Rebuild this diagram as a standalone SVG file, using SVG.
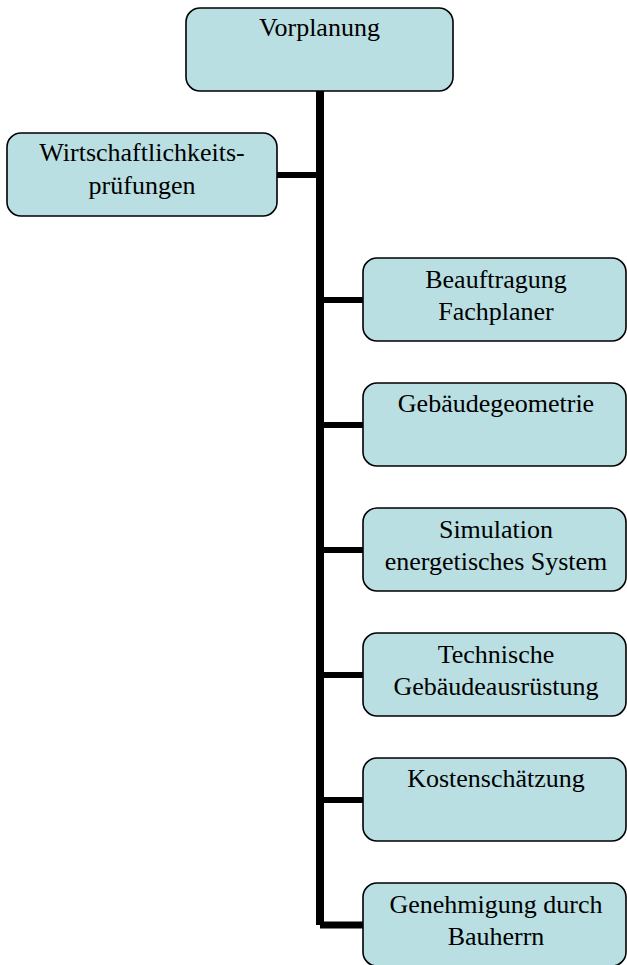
<svg xmlns="http://www.w3.org/2000/svg" width="627" height="965" viewBox="0 0 627 965">
<style>
.box{fill:#B9DFE2;stroke:#000;stroke-width:1.6}
.t{font-family:"Liberation Serif","Times New Roman",serif;font-size:26px;fill:#000;text-anchor:middle}
.c{fill:none;stroke:#000;stroke-linejoin:miter}
</style>
<rect width="627" height="965" fill="#fff"/>
<g id="connectors">
<path class="c" d="M320,91 V925" stroke-width="8"/>
<path class="c" d="M277,175 H320 M320,300 H363 M320,425 H363 M320,550 H363 M320,675 H363 M320,800 H363" stroke-width="6"/>
<path class="c" d="M320,925 H363" stroke-width="7"/>
</g>
<g id="n-vorplanung">
<rect class="box" x="186" y="8" width="267" height="83" rx="14"/>
<text class="t" x="319.5" y="36">Vorplanung</text>
</g>
<g id="n-wirtschaft">
<rect class="box" x="7" y="133" width="270" height="83" rx="14"/>
<text class="t" x="142" y="161">Wirtschaftlichkeits-</text>
<text class="t" x="142" y="194">prüfungen</text>
</g>
<g id="n-beauftragung">
<rect class="box" x="363" y="258" width="263" height="83" rx="14"/>
<text class="t" x="496" y="288">Beauftragung</text>
<text class="t" x="496" y="320">Fachplaner</text>
</g>
<g id="n-geometrie">
<rect class="box" x="363" y="383" width="263" height="83" rx="14"/>
<text class="t" x="496" y="412">Gebäudegeometrie</text>
</g>
<g id="n-simulation">
<rect class="box" x="363" y="508" width="263" height="83" rx="14"/>
<text class="t" x="496" y="538">Simulation</text>
<text class="t" x="496" y="570">energetisches System</text>
</g>
<g id="n-tga">
<rect class="box" x="363" y="633" width="263" height="83" rx="14"/>
<text class="t" x="496" y="663">Technische</text>
<text class="t" x="496" y="695">Gebäudeausrüstung</text>
</g>
<g id="n-kosten">
<rect class="box" x="363" y="758" width="263" height="83" rx="14"/>
<text class="t" x="496" y="787">Kostenschätzung</text>
</g>
<g id="n-genehmigung">
<rect class="box" x="363" y="883" width="263" height="83" rx="14"/>
<text class="t" x="496" y="913">Genehmigung durch</text>
<text class="t" x="496" y="945">Bauherrn</text>
</g>
</svg>
